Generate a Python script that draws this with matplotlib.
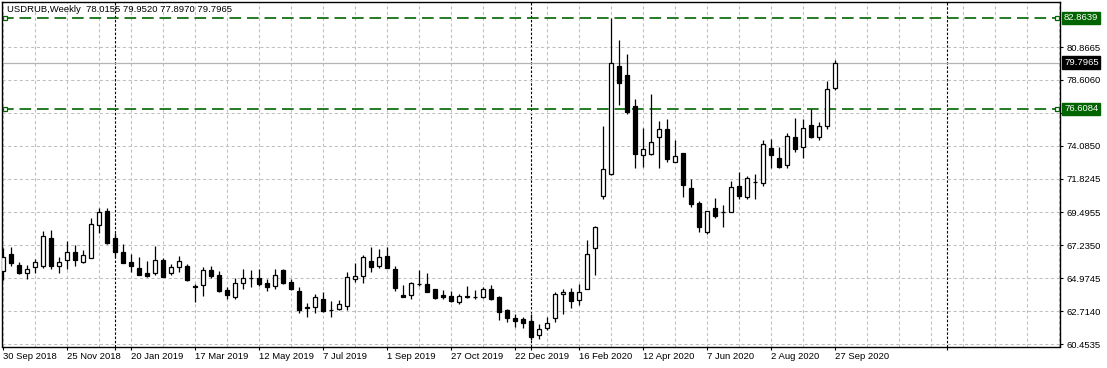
import numpy as np
import pandas as pd
import matplotlib
matplotlib.use("Agg")
import matplotlib.pyplot as plt
from matplotlib import transforms

plt.rcParams['font.family'] = ['Liberation Sans', 'DejaVu Sans']

# weekly USDRUB bars, first bar = week of 30 Sep 2018
symbol = "USDRUB,Weekly"
first_week = "2018-09-30"

opens = [65.49, 66.64, 65.88, 65.31, 65.73, 65.81, 67.72, 65.79, 66.21, 66.76,
         66.11, 66.38, 68.63, 69.57, 67.72, 66.76, 66.09, 65.66, 65.31, 65.31,
         66.23, 65.31, 65.73, 65.81, 64.44, 64.49, 65.54, 65.18, 64.16, 63.70,
         64.63, 64.97, 64.97, 64.63, 64.42, 65.54, 64.74, 64.10, 62.98, 62.98,
         63.55, 62.79, 62.86, 63.09, 64.90, 65.11, 66.16, 65.79, 66.48, 65.59,
         63.80, 63.82, 64.56, 64.56, 64.21, 63.80, 63.73, 63.34, 63.70, 63.71,
         63.70, 64.21, 63.66, 62.79, 62.24, 62.15, 62.03, 61.07, 61.53, 62.22,
         63.87, 64.01, 63.46, 64.21, 67.03, 70.63, 72.12, 79.56, 78.94, 76.81,
         73.46, 73.49, 74.70, 75.23, 72.98, 73.56, 71.18, 70.14, 68.13, 69.78,
         69.55, 69.55, 71.31, 70.58, 71.60, 71.54, 73.90, 73.22, 72.78, 74.68,
         74.01, 75.48, 74.70, 75.46, 78.0155]
highs = [67.03, 67.14, 66.09, 65.88, 66.27, 68.22, 68.29, 66.41, 67.53, 67.26,
         66.89, 69.09, 69.78, 69.78, 68.06, 67.33, 66.64, 66.45, 66.16, 67.19,
         66.34, 65.97, 66.50, 65.95, 64.56, 65.77, 65.81, 65.47, 64.35, 64.97,
         65.59, 65.54, 65.59, 64.90, 65.61, 65.59, 64.92, 64.35, 63.25, 63.87,
         64.03, 63.41, 63.48, 65.40, 66.00, 66.57, 67.10, 66.96, 67.10, 65.81,
         64.51, 64.71, 65.52, 65.33, 64.25, 64.16, 64.12, 63.89, 64.44, 64.16,
         64.35, 64.51, 63.75, 62.84, 62.49, 62.33, 62.49, 61.81, 62.31, 64.03,
         64.25, 64.30, 64.58, 67.60, 68.56, 75.44, 82.8639, 81.35, 80.39, 77.29,
         75.30, 77.62, 75.78, 75.92, 74.47, 73.58, 71.77, 70.30, 69.60, 70.47,
         70.01, 71.66, 72.30, 72.00, 72.14, 74.47, 74.54, 74.01, 74.98, 75.99,
         75.92, 76.58, 75.71, 78.51, 79.9520]
lows = [64.85, 65.84, 65.26, 64.94, 65.35, 65.70, 65.63, 65.35, 65.63, 65.84,
        66.00, 66.34, 68.10, 67.33, 66.41, 66.00, 65.42, 65.18, 65.08, 65.18,
        65.06, 65.18, 65.42, 64.80, 63.32, 63.77, 64.97, 64.03, 63.55, 63.55,
        64.21, 64.35, 64.44, 64.12, 64.21, 64.58, 64.16, 62.60, 62.33, 62.60,
        62.63, 62.33, 62.79, 62.79, 64.74, 64.63, 65.42, 65.70, 65.66, 64.12,
        63.66, 63.57, 64.44, 64.01, 63.57, 63.53, 63.36, 63.18, 63.64, 63.53,
        63.64, 63.48, 62.10, 61.99, 61.64, 61.53, 60.73, 60.78, 61.40, 61.99,
        62.49, 62.91, 63.15, 64.21, 65.22, 70.42, 72.05, 76.88, 76.26, 72.57,
        72.64, 73.46, 72.57, 72.96, 72.94, 70.54, 69.89, 68.17, 67.99, 69.09,
        68.52, 69.54, 70.42, 70.40, 70.42, 71.33, 72.57, 72.53, 72.57, 73.65,
        73.26, 74.59, 74.47, 75.23, 77.8970]
closes = [66.45, 66.00, 65.31, 65.59, 66.07, 67.88, 65.84, 66.07, 66.80, 66.25,
          66.55, 68.68, 69.55, 67.37, 66.76, 66.04, 65.84, 65.22, 65.13, 66.21,
          65.08, 65.73, 66.14, 64.85, 64.35, 65.54, 65.11, 64.08, 63.80, 64.63,
          64.97, 64.98, 64.56, 64.35, 65.18, 64.63, 64.25, 62.79, 62.96, 63.66,
          62.74, 62.80, 63.18, 65.04, 65.11, 66.41, 65.77, 66.45, 65.70, 64.32,
          63.70, 64.63, 64.58, 64.05, 63.64, 63.70, 63.43, 63.73, 63.72, 63.70,
          64.21, 63.53, 62.67, 62.22, 62.00, 61.92, 60.91, 61.46, 61.92, 63.87,
          64.01, 63.39, 64.01, 66.62, 68.47, 72.48, 79.75, 78.41, 76.42, 73.51,
          73.84, 74.32, 75.21, 73.19, 73.37, 71.38, 70.06, 68.52, 69.59, 69.27,
          69.56, 71.22, 70.65, 71.84, 71.62, 74.18, 73.44, 72.64, 74.75, 73.88,
          75.30, 74.70, 75.44, 77.96, 79.7965]

price_ticks = [80.8665, 78.6060, 76.3455, 74.0850, 71.8245,
               69.4955, 67.2350, 64.9745, 62.7140, 60.4535]
level_lines = [82.8639, 76.6084]
n_slots = 133          # bars that fit in the window (incl. empty future)

green = '#006400'
grid_c = '#c0c0c0'

o, h, l, c = map(np.array, (opens, highs, lows, closes))
x = np.arange(len(c))
up = c >= o
weeks = pd.date_range(first_week, periods=n_slots, freq='7D')

W, H = 1107, 368
fig = plt.figure(figsize=(W / 100, H / 100), dpi=100)
ax = fig.add_axes([2 / W, 21.5 / H, 1058 / W, 344.5 / H])
ax.set_xlim(-0.125, n_slots - 0.875)
ax.set_ylim(60.2817, 83.9595)

# grid
for k in range(0, n_slots, 4):
    ax.axvline(k, color=grid_c, lw=0.75, ls=(0, (3, 2.5)), zorder=0)
ax.set_yticks(price_ticks)
ax.grid(axis='y', color=grid_c, lw=0.75, ls=(0, (3, 2.5)), zorder=0)

# year separators
seps = [k for k in range(1, n_slots) if weeks[k].year != weeks[k - 1].year]
for k in seps:
    ax.axvline(k, color='black', lw=0.8, ls=(0, (2.2, 1.6)), zorder=1)

# bid line and levels
ax.axhline(c[-1], color='#b4b4b4', lw=0.9, zorder=1)
for lv in level_lines:
    ax.axhline(lv, color=green, lw=1.2, ls=(0, (7, 3.5)), zorder=2)
    ax.plot([0.003, 0.997], [lv, lv], ls='none', marker='s', ms=3.3, mfc='white',
            mec=green, mew=0.9, transform=ax.get_yaxis_transform(), clip_on=False, zorder=6)

# candles
ax.vlines(x, l, h, color='black', lw=0.9, zorder=3)
ax.bar(x, np.abs(c - o), bottom=np.minimum(o, c), width=0.55,
       color=np.where(up, 'white', 'black'), edgecolor='black', linewidth=0.9, zorder=4)

# axes / ticks
for s in ax.spines.values():
    s.set_color('black')
    s.set_linewidth(1.0)
ax.yaxis.tick_right()
ax.set_yticklabels([f"{v:.4f}" for v in price_ticks])
ax.tick_params(axis='y', direction='out', length=2.5, width=0.8, pad=2, labelsize=6.8)
lab_idx = list(range(0, len(c), 8))
ax.set_xticks(lab_idx)
ax.set_xticklabels([f"{weeks[i].day} {weeks[i]:%b %Y}" for i in lab_idx], ha='left')
ax.set_xticks(seps, minor=True)
ax.tick_params(axis='x', which='both', direction='out', length=2.5, width=0.8, pad=1.5,
               labelsize=6.8)

# price boxes on the right
tr = transforms.offset_copy(ax.get_yaxis_transform(), fig=fig, x=4, y=0, units='dots')
ax.text(1.0, c[-1], f"{c[-1]:.4f}", transform=tr, ha='left', va='center', fontsize=6.8,
        color='white', clip_on=False, zorder=7,
        bbox=dict(boxstyle='square,pad=0.18', fc='black', ec='black'))
for lv in level_lines:
    ax.text(1.0, lv, f"{lv:.4f}", transform=tr, ha='left', va='center', fontsize=6.8,
            color='white', clip_on=False, zorder=7,
            bbox=dict(boxstyle='square,pad=0.18', fc=green, ec=green))

fig.text(7 / W, 1 - 10 / H,
         f"{symbol}  {o[-1]:.4f} {h[-1]:.4f} {l[-1]:.4f} {c[-1]:.4f}",
         ha='left', va='center', fontsize=6.8, color='black')

fig.savefig("out.png", dpi=100, facecolor='white')
